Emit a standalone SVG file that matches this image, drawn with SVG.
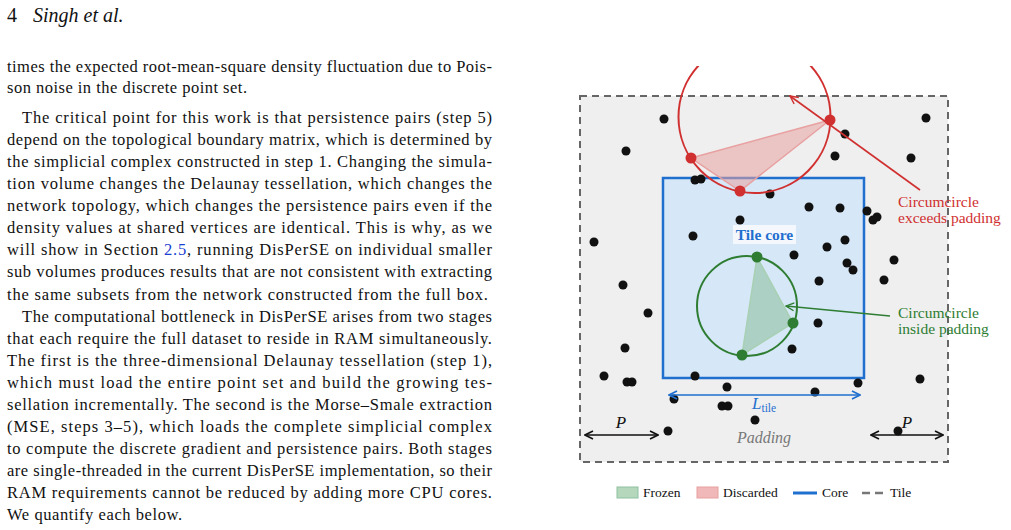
<svg xmlns="http://www.w3.org/2000/svg" width="1011" height="530" viewBox="0 0 1011 530">
<defs>
<style>
text{font-family:"Liberation Serif","Times New Roman","DejaVu Serif",serif}
.t{font-size:16.5px;fill:#111}
.d{fill:#111}
</style>
<marker id="arR" viewBox="0 0 10 10" refX="9" refY="5" markerWidth="10" markerHeight="10" orient="auto-start-reverse" markerUnits="userSpaceOnUse"><path d="M1,1 L9,5 L1,9" fill="none" stroke="#d03030" stroke-width="1.4"/></marker>
<marker id="arG" viewBox="0 0 10 10" refX="9" refY="5" markerWidth="10" markerHeight="10" orient="auto-start-reverse" markerUnits="userSpaceOnUse"><path d="M1,1 L9,5 L1,9" fill="none" stroke="#2e7d32" stroke-width="1.4"/></marker>
<marker id="arB" viewBox="0 0 10 10" refX="9" refY="5" markerWidth="10" markerHeight="10" orient="auto-start-reverse" markerUnits="userSpaceOnUse"><path d="M1,1 L9,5 L1,9" fill="none" stroke="#1f6fcf" stroke-width="1.6"/></marker>
<marker id="arK" viewBox="0 0 10 10" refX="9" refY="5" markerWidth="10" markerHeight="10" orient="auto-start-reverse" markerUnits="userSpaceOnUse"><path d="M1,1 L9,5 L1,9" fill="none" stroke="#111" stroke-width="1.6"/></marker>
<clipPath id="cl"><rect x="560" y="66" width="451" height="464"/></clipPath>
</defs>
<rect width="1011" height="530" fill="#fff"/>
<g id="header"><text x="7" y="22" font-size="20" fill="#111">4<tspan x="33" font-style="italic">Singh et al.</tspan></text></g>
<g id="body">
<text class="t" x="7" y="72" textLength="485" lengthAdjust="spacing">times the expected root-mean-square density fluctuation due to Pois-</text>
<text class="t" x="7" y="93" textLength="240" lengthAdjust="spacing">son noise in the discrete point set.</text>
<text class="t" x="22" y="123" textLength="470" lengthAdjust="spacing">The critical point for this work is that persistence pairs (step 5)</text>
<text class="t" x="7" y="145" textLength="485" lengthAdjust="spacing">depend on the topological boundary matrix, which is determined by</text>
<text class="t" x="7" y="167" textLength="485" lengthAdjust="spacing">the simplicial complex constructed in step 1. Changing the simula-</text>
<text class="t" x="7" y="189" textLength="485" lengthAdjust="spacing">tion volume changes the Delaunay tessellation, which changes the</text>
<text class="t" x="7" y="211" textLength="485" lengthAdjust="spacing">network topology, which changes the persistence pairs even if the</text>
<text class="t" x="7" y="233" textLength="485" lengthAdjust="spacing">density values at shared vertices are identical. This is why, as we</text>
<text class="t" x="7" y="255" textLength="485" lengthAdjust="spacing">will show in Section <tspan fill="#1a3fd0">2.5</tspan>, running DisPerSE on individual smaller</text>
<text class="t" x="7" y="277" textLength="485" lengthAdjust="spacing">sub volumes produces results that are not consistent with extracting</text>
<text class="t" x="7" y="300" textLength="481" lengthAdjust="spacing">the same subsets from the network constructed from the full box.</text>
<text class="t" x="22" y="322" textLength="470" lengthAdjust="spacing">The computational bottleneck in DisPerSE arises from two stages</text>
<text class="t" x="7" y="344" textLength="485" lengthAdjust="spacing">that each require the full dataset to reside in RAM simultaneously.</text>
<text class="t" x="7" y="366" textLength="485" lengthAdjust="spacing">The first is the three-dimensional Delaunay tessellation (step 1),</text>
<text class="t" x="7" y="388" textLength="485" lengthAdjust="spacing">which must load the entire point set and build the growing tes-</text>
<text class="t" x="7" y="410" textLength="485" lengthAdjust="spacing">sellation incrementally. The second is the Morse–Smale extraction</text>
<text class="t" x="7" y="432" textLength="485" lengthAdjust="spacing">(MSE, steps 3–5), which loads the complete simplicial complex</text>
<text class="t" x="7" y="454" textLength="485" lengthAdjust="spacing">to compute the discrete gradient and persistence pairs. Both stages</text>
<text class="t" x="7" y="476" textLength="485" lengthAdjust="spacing">are single-threaded in the current DisPerSE implementation, so their</text>
<text class="t" x="7" y="498" textLength="485" lengthAdjust="spacing">RAM requirements cannot be reduced by adding more CPU cores.</text>
<text class="t" x="7" y="520" textLength="175" lengthAdjust="spacing">We quantify each below.</text>
</g>
<g id="tile"><rect x="580" y="96" width="368" height="366" fill="#efefef" stroke="#666" stroke-width="2" stroke-dasharray="7,5"/></g>
<g id="core"><rect x="663" y="178" width="201" height="200" fill="#d6e8f7" stroke="#1f6fcf" stroke-width="2.5"/></g>
<g id="points">
<circle class="d" cx="664" cy="119" r="4.5"/><circle class="d" cx="626" cy="151" r="4.5"/><circle class="d" cx="845" cy="134" r="4.5"/><circle class="d" cx="835" cy="156" r="4.5"/><circle class="d" cx="911" cy="158" r="4.5"/><circle class="d" cx="926" cy="118" r="4.5"/><circle class="d" cx="695" cy="180" r="4.5"/><circle class="d" cx="701" cy="179" r="4.5"/><circle class="d" cx="770" cy="194" r="4.5"/><circle class="d" cx="809" cy="207" r="4.5"/><circle class="d" cx="840" cy="208" r="4.5"/><circle class="d" cx="867" cy="211" r="4.5"/><circle class="d" cx="873" cy="220" r="4.5"/><circle class="d" cx="877" cy="217" r="4.5"/><circle class="d" cx="740" cy="220" r="4.5"/><circle class="d" cx="693" cy="236" r="4.5"/><circle class="d" cx="594" cy="242" r="4.5"/><circle class="d" cx="845" cy="240" r="4.5"/><circle class="d" cx="827" cy="247" r="4.5"/><circle class="d" cx="794" cy="255" r="4.5"/><circle class="d" cx="847" cy="263" r="4.5"/><circle class="d" cx="853" cy="270" r="4.5"/><circle class="d" cx="894" cy="260" r="4.5"/><circle class="d" cx="623" cy="285" r="4.5"/><circle class="d" cx="819" cy="281" r="4.5"/><circle class="d" cx="884" cy="280" r="4.5"/><circle class="d" cx="648" cy="313" r="4.5"/><circle class="d" cx="818" cy="323" r="4.5"/><circle class="d" cx="792" cy="349" r="4.5"/><circle class="d" cx="625" cy="348" r="4.5"/><circle class="d" cx="604" cy="376" r="4.5"/><circle class="d" cx="627" cy="382" r="4.5"/><circle class="d" cx="632" cy="382" r="4.5"/><circle class="d" cx="695" cy="376" r="4.5"/><circle class="d" cx="727" cy="387" r="4.5"/><circle class="d" cx="815" cy="392" r="4.5"/><circle class="d" cx="858" cy="383" r="4.5"/><circle class="d" cx="920" cy="379" r="4.5"/><circle class="d" cx="674" cy="399" r="4.5"/><circle class="d" cx="722" cy="406" r="4.5"/><circle class="d" cx="728" cy="406" r="4.5"/><circle class="d" cx="755" cy="420" r="4.5"/><circle class="d" cx="668" cy="431" r="4.5"/><circle class="d" cx="898" cy="431" r="4.5"/>
</g>
<g id="discarded" clip-path="url(#cl)">
<circle cx="754.5" cy="117" r="76" fill="none" stroke="#d03030" stroke-width="2"/>
<polygon points="691,158 830,120 740,191" fill="#e8a0a0" fill-opacity="0.55" stroke="#e8a0a0" stroke-width="1.5"/>
<circle cx="691" cy="158" r="5.5" fill="#d03030"/><circle cx="830" cy="120" r="5.5" fill="#d03030"/><circle cx="740" cy="191" r="5.5" fill="#d03030"/>
</g>
<g id="frozen">
<circle cx="747" cy="306" r="50" fill="none" stroke="#2e7d32" stroke-width="2"/>
<polygon points="757,257 793,323 742,355" fill="#8fc0a0" fill-opacity="0.6" stroke="#a8d0b4" stroke-width="1.5"/>
<circle cx="757" cy="257" r="5.5" fill="#2e7d32"/><circle cx="793" cy="323" r="5.5" fill="#2e7d32"/><circle cx="742" cy="355" r="5.5" fill="#2e7d32"/>
</g>
<g id="label-core"><rect x="733" y="225" width="63" height="19" fill="#f4f8fc"/><text x="764.5" y="240" font-size="15.5" font-weight="bold" fill="#1f6fcf" text-anchor="middle">Tile core</text></g>
<g id="connectors">
<line x1="920" y1="190" x2="790" y2="96" stroke="#d03030" stroke-width="1.6" marker-end="url(#arR)"/>
<line x1="890" y1="316" x2="786" y2="306" stroke="#2e7d32" stroke-width="1.6" marker-end="url(#arG)"/>
<line x1="669" y1="395" x2="860" y2="395" stroke="#1f6fcf" stroke-width="1.6" marker-start="url(#arB)" marker-end="url(#arB)"/>
<line x1="585" y1="435" x2="658" y2="435" stroke="#111" stroke-width="1.6" marker-start="url(#arK)" marker-end="url(#arK)"/>
<line x1="871" y1="435" x2="943" y2="435" stroke="#111" stroke-width="1.6" marker-start="url(#arK)" marker-end="url(#arK)"/>
</g>
<g id="labels">
<text x="898" y="207" font-size="15.5" fill="#d03030">Circumcircle</text>
<text x="898" y="223" font-size="15.5" fill="#d03030">exceeds padding</text>
<text x="898" y="318" font-size="15.5" fill="#2e7d32">Circumcircle</text>
<text x="898" y="334" font-size="15.5" fill="#2e7d32">inside padding</text>
<text x="752" y="409" font-size="17" font-style="italic" fill="#1f6fcf">L<tspan font-size="11.5" font-style="normal" dy="3">tile</tspan></text>
<text x="621" y="428" font-size="17" font-style="italic" fill="#111" text-anchor="middle">P</text>
<text x="907" y="428" font-size="17" font-style="italic" fill="#111" text-anchor="middle">P</text>
<text x="764" y="443" font-size="16" font-style="italic" fill="#777" text-anchor="middle">Padding</text>
</g>
<g id="legend" font-size="13.5" fill="#111">
<rect x="617" y="487" width="21" height="11" fill="#b5d8bd" stroke="#8fc0a0"/>
<text x="643" y="497">Frozen</text>
<rect x="697" y="487" width="21" height="11" fill="#f0b8b8" stroke="#e8a0a0"/>
<text x="723" y="497">Discarded</text>
<line x1="793" y1="493" x2="817" y2="493" stroke="#1f6fcf" stroke-width="3"/>
<text x="822" y="497">Core</text>
<line x1="862" y1="493" x2="885" y2="493" stroke="#777" stroke-width="2.5" stroke-dasharray="8,5"/>
<text x="890" y="497">Tile</text>
</g>
</svg>
